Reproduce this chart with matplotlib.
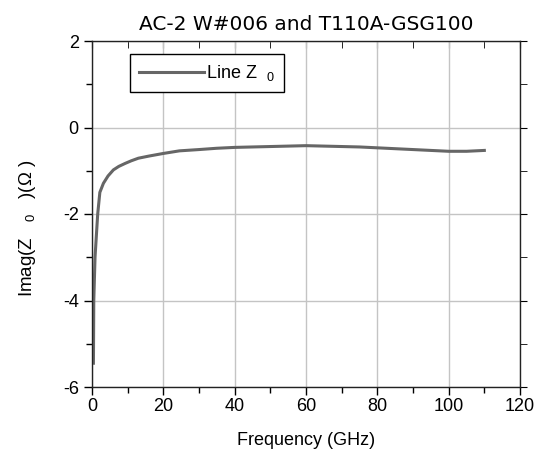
import matplotlib
matplotlib.use("Agg")
import matplotlib.pyplot as plt
from matplotlib.ticker import MultipleLocator

# data
freq_ghz = [0.4, 0.5, 0.85, 1.6, 2.2, 3.2, 4.5, 6, 7.5, 9.3, 11, 13, 16, 20, 24.5,
            30, 35, 40, 45, 50, 55, 60, 65, 70, 75, 80, 85, 90, 95, 100, 105, 110]
imag_z0 = [-5.45, -4.0, -3.0, -2.0, -1.5, -1.29, -1.12, -0.98, -0.9, -0.83, -0.77,
           -0.71, -0.66, -0.6, -0.54, -0.51, -0.48, -0.46, -0.45, -0.44, -0.43,
           -0.42, -0.43, -0.44, -0.45, -0.47, -0.49, -0.51, -0.53, -0.55, -0.55, -0.53]
series_name = "Line Z  $_{0}$"
title = "AC-2 W#006 and T110A-GSG100"

plt.rcParams["font.family"] = ["Liberation Sans", "DejaVu Sans"]
plt.rcParams["mathtext.fontset"] = "custom"
plt.rcParams["mathtext.rm"] = "Liberation Sans"
plt.rcParams["mathtext.it"] = "Liberation Sans"
plt.rcParams["axes.unicode_minus"] = False

fig = plt.figure(figsize=(5.38, 4.57), dpi=100)
ax = fig.add_axes([92/538, 1-387/457, 428/538, 346/457])

ax.plot(freq_ghz, imag_z0, color="#666666", lw=2.2, label=series_name)

ax.set_xlim(0, 120)
ax.set_ylim(-6, 2)
ax.xaxis.set_major_locator(MultipleLocator(20))
ax.xaxis.set_minor_locator(MultipleLocator(10))
ax.yaxis.set_major_locator(MultipleLocator(2))
ax.yaxis.set_minor_locator(MultipleLocator(1))
ax.grid(True, which="major", color="#c4c4c4", lw=1)
ax.set_axisbelow(True)

ax.tick_params(which="both", direction="out", labelsize=13, colors="black",
               top=False, right=False)
ax.tick_params(which="major", length=6, width=1)
ax.tick_params(which="minor", length=4, width=1)
ax.tick_params(axis="x", pad=2)
for sp in ax.spines.values():
    sp.set_color("#222222")
    sp.set_linewidth(1)

# mirrored ticks: top ones inward, right ones outward
top = ax.secondary_xaxis("top")
top.xaxis.set_major_locator(MultipleLocator(20))
top.xaxis.set_minor_locator(MultipleLocator(10))
top.tick_params(which="both", direction="in", labeltop=False, length=5)
top.spines["top"].set_visible(False)
right = ax.secondary_yaxis("right")
right.yaxis.set_major_locator(MultipleLocator(2))
right.yaxis.set_minor_locator(MultipleLocator(1))
right.tick_params(which="both", direction="out", labelright=False, length=5)
right.spines["right"].set_visible(False)

ax.set_title(title, fontsize=14.5, family="DejaVu Sans", pad=8)
ax.set_xlabel("Frequency (GHz)", fontsize=13, labelpad=12)
ax.set_ylabel("Imag(Z   $_{0}$   )(Ω )", fontsize=13.5)
ax.yaxis.set_label_coords(-0.125, 0.46)

leg = ax.legend(loc="upper left", bbox_to_anchor=(0.089, 0.962), borderaxespad=0,
                fontsize=13, frameon=True, fancybox=False, edgecolor="black",
                framealpha=1, handlelength=3.6, handletextpad=0.1, borderpad=0.5)
leg.get_frame().set_linewidth(1)

fig.savefig("out.png", dpi=100)
